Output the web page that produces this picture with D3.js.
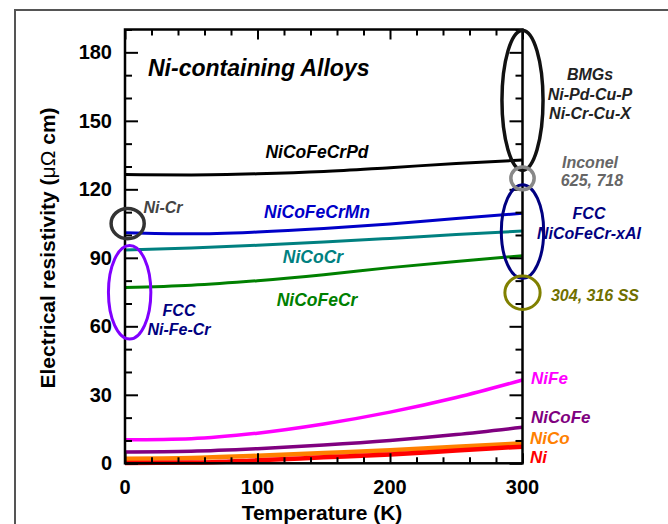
<!DOCTYPE html>
<html>
<head>
<meta charset="utf-8">
<script src="https://cdn.jsdelivr.net/npm/d3@7"></script>
<style>
  body { margin: 0; background: #fff; }
  svg text { font-family: "Liberation Sans", Arial, sans-serif; font-weight: bold; }
</style>
</head>
<body>
<svg id="chart" width="668" height="524"></svg>
<script>
// temperatures (K) at which the curves are read
const temps = [0, 50, 100, 150, 200, 250, 300];

// resistivity (µΩ cm) per alloy
const niCoFeCrPd = [126.5, 126.3, 126.8, 127.8, 129.5, 131.3, 132.8];
const niCoFeCrMn = [101.0, 100.5, 101.3, 102.8, 104.8, 107.2, 109.5];
const niCoCr     = [93.4, 94.3, 95.5, 96.9, 98.5, 100.2, 101.7];
const niCoFeCr   = [77.0, 78.0, 80.0, 82.6, 85.7, 88.4, 90.9];
const niFe       = [10.3, 10.8, 13.2, 17.2, 22.4, 28.8, 36.5];
const niCoFe     = [5.0, 5.3, 6.4, 8.0, 10.0, 12.6, 15.8];
const niCo       = [2.0, 2.3, 3.3, 4.5, 5.7, 7.2, 8.8];
const ni         = [0.1, 0.3, 1.3, 2.6, 3.9, 5.6, 7.3];

const xTicks = [0, 100, 200, 300];
const yTicks = [0, 30, 60, 90, 120, 150, 180];

const series = [
  { name: "NiCoFeCrPd", values: niCoFeCrPd, color: "#000000", width: 3 },
  { name: "NiCoFeCrMn", values: niCoFeCrMn, color: "#0000c8", width: 3 },
  { name: "NiCoCr", values: niCoCr, color: "#008080", width: 3 },
  { name: "NiCoFeCr", values: niCoFeCr, color: "#008000", width: 3 },
  { name: "NiFe", values: niFe, color: "#ff00ff", width: 3.5 },
  { name: "NiCoFe", values: niCoFe, color: "#800080", width: 3.5 },
  { name: "NiCo", values: niCo, color: "#ff8000", width: 4.5 },
  { name: "Ni", values: ni, color: "#ff0000", width: 4.5 }
];

const svg = d3.select("#chart");
const plotLeft = 125, plotRight = 522.5, plotTop = 29.5, plotBottom = 463.3;

const x = d3.scaleLinear().domain([0, 300]).range([plotLeft, plotRight]);
const y = d3.scaleLinear().domain([0, 190]).range([plotBottom, plotTop]);

// outer frame (cut by the window on the right and bottom)
svg.append("path")
  .attr("d", "M15,524V10H668")
  .attr("fill", "none")
  .attr("stroke", "#555")
  .attr("stroke-width", 2);

// curves
const line = d3.line()
  .x((d, i) => x(temps[i]))
  .y(d => y(d))
  .curve(d3.curveMonotoneX);

svg.selectAll("path.curve")
  .data(series)
  .enter()
  .append("path")
  .attr("class", "curve")
  .attr("d", d => line(d.values))
  .attr("fill", "none")
  .attr("stroke", d => d.color)
  .attr("stroke-width", d => d.width);

// axes with inward ticks, minor every 20 K / 10 units
function styleAxis(g) {
  g.select(".domain").remove();
  g.selectAll("line").attr("stroke", "#000").attr("stroke-width", 2);
  g.selectAll("text").remove();
}
const xMinor = d3.range(0, 301, 20).filter(v => v % 100 !== 0);
const yMinor = d3.range(0, 191, 10).filter(v => v % 30 !== 0);

[[d3.axisTop, plotBottom], [d3.axisBottom, plotTop]].forEach(([ax, pos]) => {
  svg.append("g").attr("transform", `translate(0,${pos})`)
    .call(ax(x).tickValues(xTicks).tickSize(10)).call(styleAxis);
  svg.append("g").attr("transform", `translate(0,${pos})`)
    .call(ax(x).tickValues(xMinor).tickSize(6)).call(styleAxis);
});
[[d3.axisRight, plotLeft], [d3.axisLeft, plotRight]].forEach(([ax, pos]) => {
  svg.append("g").attr("transform", `translate(${pos},0)`)
    .call(ax(y).tickValues(yTicks).tickSize(13)).call(styleAxis);
  svg.append("g").attr("transform", `translate(${pos},0)`)
    .call(ax(y).tickValues(yMinor).tickSize(7)).call(styleAxis);
});

svg.append("rect")
  .attr("x", plotLeft).attr("y", plotTop)
  .attr("width", plotRight - plotLeft).attr("height", plotBottom - plotTop)
  .attr("fill", "none").attr("stroke", "#000").attr("stroke-width", 2.5);

// tick labels
svg.selectAll("text.xt")
  .data(xTicks)
  .enter()
  .append("text")
  .attr("class", "xt")
  .attr("x", d => x(d))
  .attr("y", 494)
  .attr("text-anchor", "middle")
  .attr("font-size", "20px")
  .text(d => d);

svg.selectAll("text.yt")
  .data(yTicks)
  .enter()
  .append("text")
  .attr("class", "yt")
  .attr("x", 112)
  .attr("y", d => y(d) + 7)
  .attr("text-anchor", "end")
  .attr("font-size", "20px")
  .text(d => d);

// axis titles
svg.append("text")
  .attr("x", 322).attr("y", 520)
  .attr("text-anchor", "middle")
  .attr("font-size", "21px")
  .text("Temperature (K)");

const yTitle = svg.append("text")
  .attr("transform", "translate(55,248) rotate(-90)")
  .attr("text-anchor", "middle")
  .attr("font-size", "21px");
yTitle.append("tspan").text("Electrical resistivity (");
yTitle.append("tspan").attr("font-weight", "normal").text("μΩ");
yTitle.append("tspan").text(" cm)");

// annotation ellipses (centres and radii in data units)
const ellipses = [
  { t: 300, v: 159, rt: 15.5, rv: 30.6, color: "#111", width: 3.5 },
  { t: 300, v: 101.5, rt: 16, rv: 20.5, color: "#000080", width: 3 },
  { t: 300, v: 124.8, rt: 8.8, rv: 5, color: "#888", width: 3.5 },
  { t: 300, v: 74.7, rt: 13.3, rv: 7.3, color: "#808000", width: 3 },
  { t: 2, v: 105, rt: 12.5, rv: 6.6, color: "#333", width: 3.5 },
  { t: 3.5, v: 74.9, rt: 16, rv: 20.5, color: "#8000ff", width: 3 }
];
svg.selectAll("ellipse.ann")
  .data(ellipses)
  .enter()
  .append("ellipse")
  .attr("class", "ann")
  .attr("cx", d => x(d.t))
  .attr("cy", d => y(d.v))
  .attr("rx", d => x(d.rt) - x(0))
  .attr("ry", d => y(0) - y(d.rv))
  .attr("fill", "none")
  .attr("stroke", d => d.color)
  .attr("stroke-width", d => d.width);

// text labels
const labels = [
  { text: "Ni-containing Alloys", x: 148, y: 76, anchor: "start", color: "#000", size: 23 },
  { text: "NiCoFeCrPd", x: 317, y: 158, anchor: "middle", color: "#000", size: 17.5 },
  { text: "NiCoFeCrMn", x: 317, y: 218, anchor: "middle", color: "#0000c8", size: 17.5 },
  { text: "NiCoCr", x: 313, y: 263, anchor: "middle", color: "#008080", size: 17.5 },
  { text: "NiCoFeCr", x: 317, y: 306, anchor: "middle", color: "#008000", size: 17.5 },
  { text: "Ni-Cr", x: 163, y: 213, anchor: "middle", color: "#444", size: 16 },
  { text: "FCC", x: 179, y: 316, anchor: "middle", color: "#000080", size: 16 },
  { text: "Ni-Fe-Cr", x: 179, y: 335, anchor: "middle", color: "#000080", size: 16 },
  { text: "BMGs", x: 590, y: 80, anchor: "middle", color: "#222", size: 16 },
  { text: "Ni-Pd-Cu-P", x: 590, y: 100, anchor: "middle", color: "#222", size: 16 },
  { text: "Ni-Cr-Cu-X", x: 590, y: 119, anchor: "middle", color: "#222", size: 16 },
  { text: "Inconel", x: 590, y: 168, anchor: "middle", color: "#666", size: 16 },
  { text: "625, 718", x: 592, y: 186, anchor: "middle", color: "#666", size: 16 },
  { text: "FCC", x: 589, y: 219, anchor: "middle", color: "#000080", size: 16 },
  { text: "NiCoFeCr-xAl", x: 589, y: 239, anchor: "middle", color: "#000080", size: 16 },
  { text: "304, 316 SS", x: 595, y: 301, anchor: "middle", color: "#707000", size: 16 },
  { text: "NiFe", x: 531, y: 384, anchor: "start", color: "#ff00ff", size: 17 },
  { text: "NiCoFe", x: 531, y: 423, anchor: "start", color: "#800080", size: 17 },
  { text: "NiCo", x: 530, y: 444, anchor: "start", color: "#ff8000", size: 17 },
  { text: "Ni", x: 530, y: 463, anchor: "start", color: "#ff0000", size: 17 }
];
svg.selectAll("text.lab")
  .data(labels)
  .enter()
  .append("text")
  .attr("class", "lab")
  .attr("x", d => d.x)
  .attr("y", d => d.y)
  .attr("text-anchor", d => d.anchor)
  .attr("font-style", "italic")
  .attr("font-size", d => d.size + "px")
  .attr("fill", d => d.color)
  .text(d => d.text);
</script>
</body>
</html>
